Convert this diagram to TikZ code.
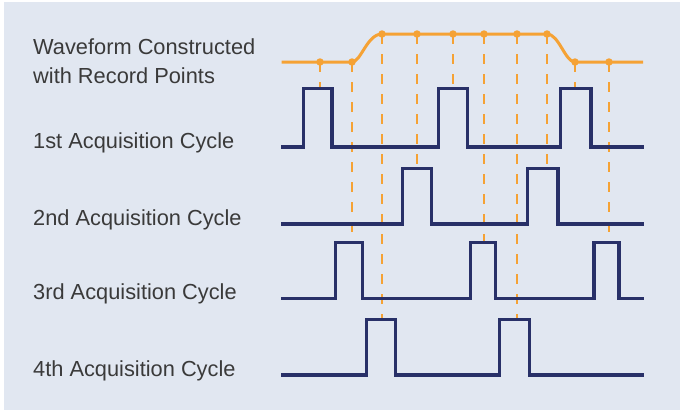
\documentclass[tikz,border=0pt]{standalone}
\usepackage{fontspec}
\setmainfont{Liberation Sans}
\definecolor{bg}{HTML}{E1E7F1}
\definecolor{navy}{HTML}{283068}
\definecolor{orng}{HTML}{F5A235}
\definecolor{txt}{HTML}{3A3A3A}
\begin{document}
\begin{tikzpicture}[x=1pt,y=-1pt,
  lbl/.style={anchor=base west, inner sep=0pt, font=\fontsize{21.8}{26}\selectfont, text=txt},
  pulse/.style={draw=navy, line width=3.5pt, line join=miter},
  wave/.style={draw=orng, line width=3pt},
  dot/.style={circle, fill=orng, inner sep=0pt, minimum size=7.5pt},
  samp/.style={draw=orng, line width=1.6pt, dash pattern=on 9.5pt off 10.5pt}]
\useasboundingbox (0,0) rectangle (680,410);
\fill[bg] (4,2) rectangle (680,410);

% labels
\node[lbl] (t1) at (33,54) {Waveform Constructed};
\node[lbl] (t2) at (33,83) {with Record Points};
\node[lbl] (l1) at (33,148.3) {1st Acquisition Cycle};
\node[lbl] (l2) at (33,225) {2nd Acquisition Cycle};
\node[lbl] (l3) at (33,299) {3rd Acquisition Cycle};
\node[lbl] (l4) at (33,376) {4th Acquisition Cycle};

% record points
\coordinate (p1) at (320,62);
\coordinate (p2) at (352,62);
\coordinate (p3) at (382,34);
\coordinate (p4) at (417,34);
\coordinate (p5) at (453,34);
\coordinate (p6) at (484,34);
\coordinate (p7) at (517,34);
\coordinate (p8) at (547,34);
\coordinate (p9) at (575,62);
\coordinate (p10) at (609,62);
% sample instants on the pulses
\coordinate (e1) at (320,88.7);
\coordinate (e2) at (352,242.7);
\coordinate (e3) at (382,319.3);
\coordinate (e4) at (417,168.3);
\coordinate (e5) at (453,88.7);
\coordinate (e6) at (484,242.7);
\coordinate (e7) at (517,319.3);
\coordinate (e8) at (547,168.3);
\coordinate (e9) at (575,88.7);
\coordinate (e10) at (609,242.7);

\foreach \i in {1,...,10} \draw[samp] (p\i) -- (e\i);

% acquisition cycles
\draw[pulse] (281,147) -- (303.7,147) -- (303.7,88.7) -- (332,88.7) -- (332,147)
  -- (438.3,147) -- (438.3,88.7) -- (467.3,88.7) -- (467.3,147)
  -- (560.7,147) -- (560.7,88.7) -- (591,88.7) -- (591,147) -- (644,147);
\draw[pulse] (281,224) -- (402.3,224) -- (402.3,168.3) -- (431.7,168.3) -- (431.7,224)
  -- (527.3,224) -- (527.3,168.3) -- (558,168.3) -- (558,224) -- (644,224);
\draw[pulse] (281,298.3) -- (335.3,298.3) -- (335.3,242.7) -- (362.7,242.7) -- (362.7,298.3)
  -- (470.7,298.3) -- (470.7,242.7) -- (495.7,242.7) -- (495.7,298.3)
  -- (594,298.3) -- (594,242.7) -- (619,242.7) -- (619,298.3) -- (644,298.3);
\draw[pulse] (281,375) -- (366.7,375) -- (366.7,319.3) -- (395.7,319.3) -- (395.7,375)
  -- (499.3,375) -- (499.3,319.3) -- (529.7,319.3) -- (529.7,375) -- (644,375);

% constructed waveform
\coordinate (ws) at (281.7,62);
\coordinate (we) at (643,62);
\draw[wave] (ws) -- (p2) .. controls (361,62) and (367,34) .. (p3) -- (p8)
  .. controls (559,34) and (565,62) .. (p9) -- (we);
\foreach \i in {1,...,10} \node[dot] (d\i) at (p\i) {};
\end{tikzpicture}
\end{document}
